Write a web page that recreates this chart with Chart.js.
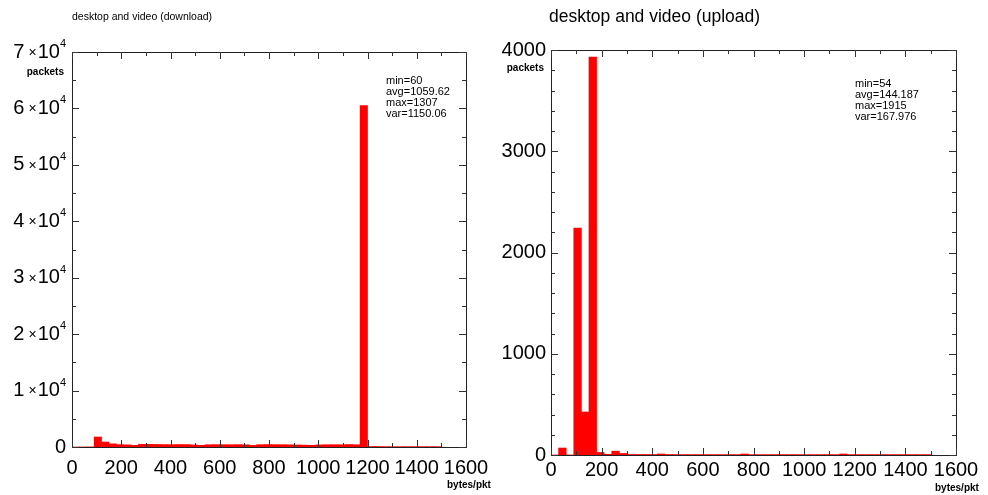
<!DOCTYPE html>
<html>
<head>
<meta charset="utf-8">
<script src="https://cdn.jsdelivr.net/npm/chart.js@4/dist/chart.umd.min.js"></script>
<style>
    html, body { margin: 0; padding: 0; background: #fff; }
    #wrap { position: relative; width: 988px; height: 495px; }
    .box { position: absolute; top: 0; width: 494px; height: 495px; }
    #down-box { left: 0; }
    #up-box { left: 494px; }
</style>
</head>
<body>
<div id="wrap">
    <div class="box" id="down-box"><canvas id="downChart" width="494" height="495"></canvas></div>
    <div class="box" id="up-box"><canvas id="upChart" width="494" height="495"></canvas></div>
</div>
<script>
// histogram bins, 30 bytes wide (bin centres)
const binCenters = [
    15, 45, 75, 105, 135, 165, 195, 225, 255, 285,
    315, 345, 375, 405, 435, 465, 495, 525, 555, 585,
    615, 645, 675, 705, 735, 765, 795, 825, 855, 885,
    915, 945, 975, 1005, 1035, 1065, 1095, 1125, 1155, 1185,
    1215, 1245, 1275, 1305, 1335, 1365, 1395, 1425, 1455, 1485
];

const downloadCounts = [
    0, 0, 20, 1770, 880, 560, 420, 380, 290, 480,
    470, 450, 430, 420, 440, 430, 360, 300, 400, 420,
    410, 400, 420, 390, 280, 410, 430, 420, 410, 390,
    360, 330, 300, 380, 400, 410, 390, 440, 400, 60500,
    90, 80, 70, 60, 60, 60, 60, 60, 60, 60
];

const uploadCounts = [
    0, 69, 0, 2240, 425, 3930, 25, 7, 38, 15,
    5, 5, 5, 5, 10, 5, 4, 4, 4, 4,
    4, 4, 4, 4, 4, 10, 4, 4, 4, 4,
    4, 4, 4, 4, 4, 4, 4, 4, 10, 4,
    4, 4, 4, 4, 4, 4, 4, 4, 4, 4
];

const xTickValues = [0, 200, 400, 600, 800, 1000, 1200, 1400, 1600];
const downYTicks = [0, 10000, 20000, 30000, 40000, 50000, 60000, 70000];
const upYTicks = [0, 1000, 2000, 3000, 4000];

const downStats = ['min=60', 'avg=1059.62', 'max=1307', 'var=1150.06'];
const upStats = ['min=54', 'avg=144.187', 'max=1915', 'var=167.976'];

const FONT = '"Liberation Sans", Arial, Helvetica, sans-serif';

// frame is drawn under the bars, the inward ticks on top of them
const frameTicks = {
    id: 'frameTicks',
    beforeDatasetsDraw(chart) {
        const { ctx, chartArea: a } = chart;
        ctx.save();
        ctx.strokeStyle = '#222';
        ctx.lineWidth = 1;
        ctx.strokeRect(Math.round(a.left) + 0.5, Math.round(a.top) + 0.5,
            Math.round(a.right - a.left), Math.round(a.bottom - a.top));
        ctx.restore();
    },
    afterDatasetsDraw(chart, args, opts) {
        const { ctx, chartArea: a, scales: { x, y } } = chart;
        ctx.save();
        ctx.strokeStyle = '#333';
        ctx.lineWidth = 1;
        ctx.beginPath();
        for (let v = x.min; v <= x.max; v += opts.xMinor) {
            const px = Math.round(x.getPixelForValue(v)) + 0.5;
            const len = v % opts.xMajor === 0 ? 7 : 4;
            ctx.moveTo(px, a.bottom); ctx.lineTo(px, a.bottom - len);
            ctx.moveTo(px, a.top); ctx.lineTo(px, a.top + len);
        }
        for (let v = y.min; v <= y.max; v += opts.yMinor) {
            const py = Math.round(y.getPixelForValue(v)) + 0.5;
            const len = v % opts.yMajor === 0 ? 7 : 4;
            ctx.moveTo(a.left, py); ctx.lineTo(a.left + len, py);
            ctx.moveTo(a.right, py); ctx.lineTo(a.right - len, py);
        }
        ctx.stroke();
        ctx.restore();
    }
};

const annotations = {
    id: 'annotations',
    afterDraw(chart, args, opts) {
        const { ctx, scales: { y } } = chart;
        ctx.save();
        ctx.fillStyle = '#000';
        ctx.textBaseline = 'middle';

        ctx.textAlign = 'left';
        ctx.font = opts.titleFont + 'px ' + FONT;
        ctx.fillText(opts.title, opts.titleX, opts.titleY);

        ctx.font = 'bold 10px ' + FONT;
        ctx.textAlign = 'right';
        ctx.fillText('packets', opts.packetsX, opts.packetsY);
        ctx.textAlign = 'left';
        ctx.fillText('bytes/pkt', opts.unitX, opts.unitY);

        ctx.font = '11px ' + FONT;
        opts.stats.forEach((line, i) => {
            ctx.fillText(line, opts.statsX, opts.statsY + i * 11);
        });

        // y labels written as  n ×10^4
        if (opts.powerLabels) {
            const right = opts.powerRight;
            downYTicks.forEach(v => {
                const py = y.getPixelForValue(v);
                ctx.textAlign = 'right';
                if (v === 0) {
                    ctx.font = '20px ' + FONT;
                    ctx.fillText('0', right, py);
                    return;
                }
                ctx.font = '11px ' + FONT;
                const supW = ctx.measureText('4').width;
                ctx.fillText('4', right, py - 8);
                ctx.font = '20px ' + FONT;
                const tenW = ctx.measureText('10').width;
                ctx.fillText('10', right - supW, py);
                ctx.font = '14px ' + FONT;
                const timesW = ctx.measureText('×').width;
                ctx.fillText('×', right - supW - tenW - 1, py + 1);
                ctx.font = '20px ' + FONT;
                ctx.fillText(String(v / 10000), right - supW - tenW - timesW - 5, py);
            });
        }
        ctx.restore();
    }
};

function makeHistogram(canvasId, counts, yTicks, cfg) {
    const ctx = document.getElementById(canvasId).getContext('2d');
    return new Chart(ctx, {
        type: 'bar',
        data: {
            datasets: [{
                data: binCenters.map((c, i) => ({ x: c, y: counts[i] })),
                backgroundColor: '#ff0000',
                borderWidth: 0,
                barPercentage: 1,
                categoryPercentage: 1
            }]
        },
        options: {
            responsive: false,
            devicePixelRatio: 1,
            animation: false,
            layout: { padding: { top: cfg.padTop, right: cfg.padRight, left: 0, bottom: 0 } },
            plugins: {
                legend: { display: false },
                tooltip: { enabled: false },
                title: { display: false },
                frameTicks: { xMajor: 200, xMinor: 100, yMajor: cfg.yMajor, yMinor: cfg.yMinor },
                annotations: cfg.notes
            },
            scales: {
                x: {
                    type: 'linear',
                    min: 0,
                    max: 1600,
                    offset: false,
                    grid: { display: false, drawTicks: false },
                    border: { display: false },
                    afterBuildTicks: s => { s.ticks = xTickValues.map(v => ({ value: v })); },
                    afterFit: s => {
                        s.height = cfg.xHeight;
                        s.paddingLeft = 0;
                        s.paddingRight = 0;
                    },
                    ticks: {
                        autoSkip: false,
                        maxRotation: 0,
                        padding: cfg.xPad,
                        color: '#000',
                        font: { family: FONT, size: 20 },
                        callback: v => String(v)
                    }
                },
                y: {
                    min: 0,
                    max: yTicks[yTicks.length - 1],
                    grid: { display: false, drawTicks: false },
                    border: { display: false },
                    afterBuildTicks: s => { s.ticks = yTicks.map(v => ({ value: v })); },
                    afterFit: s => {
                        s.width = cfg.yWidth;
                        s.paddingTop = 0;
                        s.paddingBottom = 0;
                    },
                    ticks: {
                        display: cfg.showYTicks,
                        padding: 5,
                        color: '#000',
                        font: { family: FONT, size: 20 },
                        callback: v => String(v)
                    }
                }
            }
        },
        plugins: [frameTicks, annotations]
    });
}

const downChart = makeHistogram('downChart', downloadCounts, downYTicks, {
    padTop: 52, padRight: 28, xHeight: 48, yWidth: 72, xPad: 9,
    yMajor: 10000, yMinor: 5000, showYTicks: false,
    notes: {
        title: 'desktop and video (download)', titleFont: 10.5, titleX: 72, titleY: 17,
        packetsX: 64, packetsY: 72, unitX: 447, unitY: 485,
        stats: downStats, statsX: 386, statsY: 81,
        powerLabels: true, powerRight: 66
    }
});

const upChart = makeHistogram('upChart', uploadCounts, upYTicks, {
    padTop: 50, padRight: 32, xHeight: 40, yWidth: 57, xPad: 3,
    yMajor: 1000, yMinor: 200, showYTicks: true,
    notes: {
        title: 'desktop and video (upload)', titleFont: 17.5, titleX: 55, titleY: 17,
        packetsX: 50, packetsY: 68, unitX: 441, unitY: 488,
        stats: upStats, statsX: 361, statsY: 84,
        powerLabels: false
    }
});
</script>
</body>
</html>
